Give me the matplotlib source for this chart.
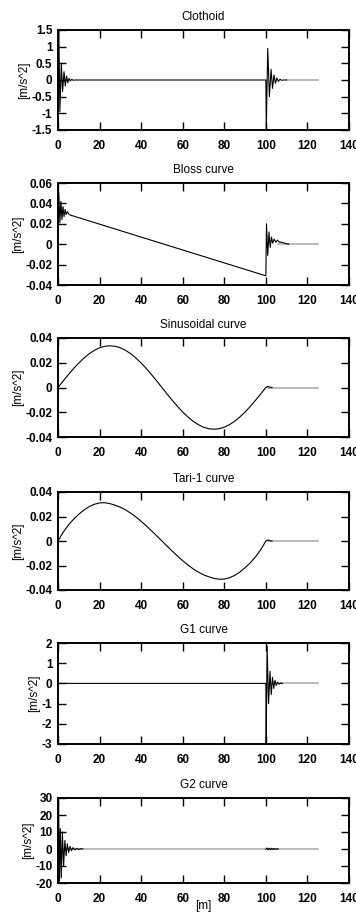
#!/usr/bin/env python3

from __future__ import annotations

import matplotlib

matplotlib.use("Agg")
import matplotlib.pyplot as plt

plt.rcParams["font.family"] = ["Liberation Sans", "DejaVu Sans"]
plt.rcParams["axes.unicode_minus"] = False

# lateral acceleration [m/s^2] against distance along the transition [m]
clothoid_x = [0, 0.4, 0.9, 1.6, 2.2, 2.9, 3.5, 4.1, 4.7, 5.3, 5.9, 6.6, 7.3, 8.0, 9.0,
              100, 100.2, 100.9, 101.7, 102.5, 103.2, 103.9, 104.6, 105.3, 106.0, 106.8,
              107.6, 108.5, 110]
clothoid_y = [0, 1.5, -0.95, 0.5, -0.35, 0.25, -0.18, 0.12, -0.08, 0.05, -0.03, 0.02, -0.01, 0, 0,
              0, -1.5, 0.95, -0.5, 0.32, -0.25, 0.15, -0.1, 0.06, -0.04, 0.02,
              -0.01, 0, 0]
clothoid_rest_x = [110, 125]
clothoid_rest_y = [0, 0]

bloss_x = [0, 0.4, 0.9, 1.4, 1.9, 2.4, 2.9, 3.4, 3.9, 4.5, 5.2, 6.0,
           100, 100.3, 100.9, 101.5, 102.1, 102.7, 103.3, 104.0, 104.8, 105.6, 106.5,
           107.5, 109, 111]
bloss_y = [0.02, 0.051, 0.021, 0.042, 0.024, 0.037, 0.027, 0.034, 0.029, 0.032, 0.0295, 0.0285,
           -0.031, 0.02, -0.011, 0.012, -0.003, 0.007, 0.001, 0.005, 0.002, 0.004, 0.002,
           0.002, 0.001, 0]
bloss_rest_x = [106, 125]
bloss_rest_y = [0, 0]

transition_x = [0, 2.5, 5, 7.5, 10, 12.5, 15, 17.5, 20, 22.5, 25, 27.5, 30, 32.5, 35, 37.5,
                40, 42.5, 45, 47.5, 50, 52.5, 55, 57.5, 60, 62.5, 65, 67.5, 70, 72.5, 75,
                77.5, 80, 82.5, 85, 87.5, 90, 92.5, 95, 97.5, 100]

sinusoidal_x = transition_x + [101, 102, 103]
sinusoidal_y = [0, 0.0053, 0.0104, 0.0153, 0.0198, 0.0238, 0.0273, 0.0300, 0.0321, 0.0333, 0.0337,
                0.0333, 0.0321, 0.0300, 0.0273, 0.0238, 0.0198, 0.0153, 0.0104, 0.0053, 0,
                -0.0053, -0.0104, -0.0153, -0.0198, -0.0238, -0.0273, -0.0300, -0.0321, -0.0333, -0.0337,
                -0.0333, -0.0321, -0.0300, -0.0273, -0.0238, -0.0198, -0.0153, -0.0104, -0.0053, 0,
                0.0008, 0.0002, 0]
sinusoidal_rest_x = [101, 125]
sinusoidal_rest_y = [0, 0]

tari_x = transition_x + [101, 102, 103]
tari_y = [0, 0.0072, 0.0130, 0.0178, 0.0218, 0.0253, 0.0281, 0.0300, 0.0311, 0.0312,
          0.0305, 0.0292, 0.0276, 0.0254, 0.0227, 0.0196, 0.0161, 0.0123, 0.0083, 0.0042, 0,
          -0.0042, -0.0083, -0.0123, -0.0161, -0.0196, -0.0227, -0.0254, -0.0276, -0.0292, -0.0305,
          -0.0312, -0.0311, -0.0300, -0.0281, -0.0253, -0.0218, -0.0178, -0.0130, -0.0072, 0,
          0.0008, 0.0002, 0]
tari_rest_x = [101, 125]
tari_rest_y = [0, 0]

g1_x = [0, 100, 100.15, 100.6, 101.3, 102.0, 102.6, 103.2, 103.8, 104.4, 105.0, 105.6,
        106.3, 107.0, 108.0]
g1_y = [0, 0, -3, 1.85, -1.0, 0.6, -0.55, 0.3, -0.25, 0.15, -0.1, 0.06,
        -0.04, 0.02, 0]
g1_rest_x = [107, 125]
g1_rest_y = [0, 0]

g2_x = [0, 0.3, 0.7, 1.1, 1.6, 2.1, 2.7, 3.3, 3.9, 4.5, 5.1, 5.8, 6.5, 7.2, 8.0, 9.0, 10.0,
        11.0, 12.0, None,
        100, 100.5, 101.0, 101.6, 102.2, 102.8, 103.4, 104.0, 104.6, 105.2, 106.0]
g2_y = [0, 28, -19, 12, -17, 10, -10, 5, -4, 3, -2, 1.5, -1, 0.8, -0.5, 0.4, -0.3,
        0.2, 0, None,
        0, 0.6, -0.5, 0.5, -0.4, 0.4, -0.3, 0.3, -0.2, 0.1, 0]
g2_rest_x = [0, 125]
g2_rest_y = [0, 0]

x_ticks = [0, 20, 40, 60, 80, 100, 120, 140]
x_tick_labels = ["0", "20", "40", "60", "80", "100", "120", "140"]

clothoid_ticks = [-1.5, -1, -0.5, 0, 0.5, 1, 1.5]
clothoid_tick_labels = ["-1.5", "-1", "-0.5", "0", "0.5", "1", "1.5"]
bloss_ticks = [-0.04, -0.02, 0, 0.02, 0.04, 0.06]
bloss_tick_labels = ["-0.04", "-0.02", "0", "0.02", "0.04", "0.06"]
small_ticks = [-0.04, -0.02, 0, 0.02, 0.04]
small_tick_labels = ["-0.04", "-0.02", "0", "0.02", "0.04"]
g1_ticks = [-3, -2, -1, 0, 1, 2]
g1_tick_labels = ["-3", "-2", "-1", "0", "1", "2"]
g2_ticks = [-20, -10, 0, 10, 20, 30]
g2_tick_labels = ["-20", "-10", "0", "10", "20", "30"]

panels = [
    ("Clothoid", clothoid_x, clothoid_y, clothoid_rest_x, clothoid_rest_y,
     clothoid_ticks, clothoid_tick_labels),
    ("Bloss curve", bloss_x, bloss_y, bloss_rest_x, bloss_rest_y,
     bloss_ticks, bloss_tick_labels),
    ("Sinusoidal curve", sinusoidal_x, sinusoidal_y, sinusoidal_rest_x, sinusoidal_rest_y,
     small_ticks, small_tick_labels),
    ("Tari-1 curve", tari_x, tari_y, tari_rest_x, tari_rest_y,
     small_ticks, small_tick_labels),
    ("G1 curve", g1_x, g1_y, g1_rest_x, g1_rest_y, g1_ticks, g1_tick_labels),
    ("G2 curve", g2_x, g2_y, g2_rest_x, g2_rest_y, g2_ticks, g2_tick_labels),
]

# axes frames in pixels: (top, bottom) rows, shared left/right columns
FIG_W, FIG_H = 356, 918
AX_LEFT, AX_RIGHT = 58, 349
AX_ROWS = [(30, 130), (183, 285), (338, 437), (492, 590), (643, 744), (798, 883)]


def draw_panel(ax, title, xs, ys, rest_x, rest_y, yticks, ytick_labels) -> None:
    ax.plot(rest_x, rest_y, color="#a8a8a8", lw=1.1, zorder=2)
    xv = [float("nan") if v is None else v for v in xs]
    yv = [float("nan") if v is None else v for v in ys]
    ax.plot(xv, yv, color="black", lw=0.8, zorder=3)

    ax.set_xlim(0, 140)
    ax.set_ylim(yticks[0], yticks[-1])
    ax.set_xticks(x_ticks)
    ax.set_xticklabels(x_tick_labels, fontweight="bold")
    ax.set_yticks(yticks)
    ax.set_yticklabels(ytick_labels, fontweight="bold")
    ax.tick_params(direction="in", length=5.5, width=1.0, top=True, right=True,
                   labelsize=8.5)
    ax.tick_params(axis="x", pad=7.5)
    ax.tick_params(axis="y", pad=4)
    for spine in ax.spines.values():
        spine.set_linewidth(1.4)

    ax.set_title(title, fontsize=8.5, pad=7.5)
    ax.set_ylabel("[m/s^2]", fontsize=8.5, labelpad=1)


def main() -> None:
    fig = plt.figure(figsize=(FIG_W / 100, FIG_H / 100), dpi=100)
    axes = []
    for (top, bottom), panel in zip(AX_ROWS, panels):
        rect = [AX_LEFT / FIG_W, 1 - bottom / FIG_H,
                (AX_RIGHT - AX_LEFT) / FIG_W, (bottom - top) / FIG_H]
        ax = fig.add_axes(rect)
        draw_panel(ax, *panel)
        axes.append(ax)

    axes[-1].set_xlabel("[m]", fontsize=8.5, labelpad=-4)
    fig.savefig("out.png", dpi=100)
    plt.close(fig)


if __name__ == "__main__":
    main()
